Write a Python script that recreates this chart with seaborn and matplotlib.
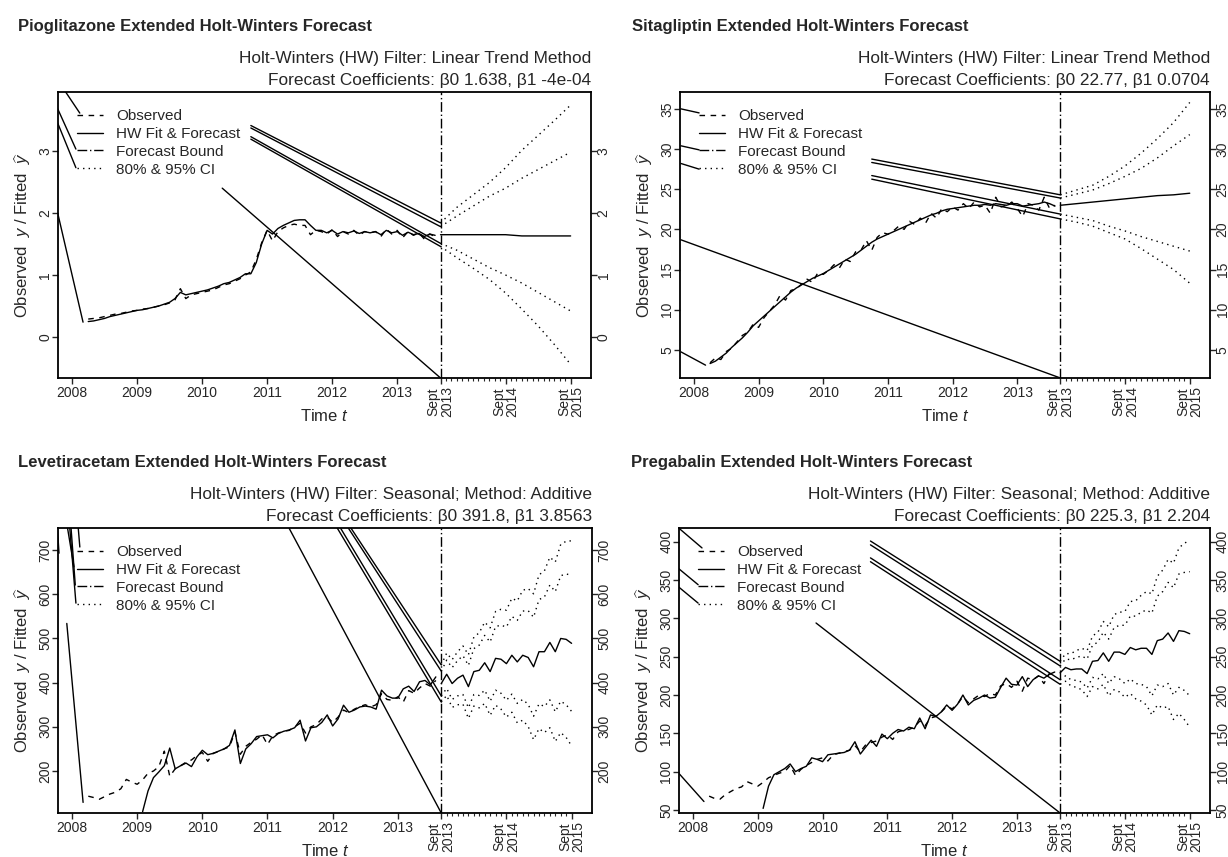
import numpy as np
import matplotlib
matplotlib.use("Agg")
import matplotlib.pyplot as plt
import seaborn as sns
from matplotlib.lines import Line2D

# ---------------------------------------------------------------- data
# monthly series: observed from Apr 2008, seasonal fits from Feb 2009,
# forecasts from Sept 2013 to Sept 2015
obs_start = 2008 + 3 / 12
seas_fit_start = 2009 + 1 / 12
fc_start = 2013 + 8 / 12

years = [2008, 2009, 2010, 2011, 2012, 2013]
sept_labels = ["Sept\n2013", "Sept\n2014", "Sept\n2015"]
legend_labels = ["Observed", "HW Fit & Forecast", "Forecast Bound", "80% & 95% CI"]

# Pioglitazone (linear trend, quarterly forecast points)
pio_obs = [0.29, 0.30, 0.31, 0.33, 0.35, 0.37, 0.38, 0.40, 0.42,
           0.43, 0.45, 0.46, 0.48, 0.50, 0.52, 0.55, 0.60, 0.78, 0.62, 0.68, 0.70,
           0.72, 0.74, 0.76, 0.80, 0.84, 0.86, 0.90, 0.94, 1.00, 1.05, 1.25, 1.52,
           1.72, 1.55, 1.70, 1.76, 1.80, 1.82, 1.80, 1.80, 1.65, 1.72, 1.70, 1.66,
           1.73, 1.62, 1.70, 1.66, 1.72, 1.64, 1.70, 1.68, 1.70, 1.62, 1.74, 1.66,
           1.72, 1.60, 1.70, 1.64, 1.68, 1.58, 1.66, 1.62]
pio_fit = [0.25, 0.26, 0.28, 0.30, 0.33, 0.35, 0.37, 0.39, 0.41,
           0.43, 0.44, 0.46, 0.48, 0.50, 0.53, 0.56, 0.62, 0.72, 0.68, 0.70, 0.72,
           0.74, 0.76, 0.79, 0.82, 0.86, 0.88, 0.92, 0.96, 1.02, 1.02, 1.20, 1.50,
           1.72, 1.66, 1.75, 1.80, 1.84, 1.88, 1.89, 1.89, 1.80, 1.72, 1.72, 1.68,
           1.72, 1.66, 1.70, 1.68, 1.71, 1.67, 1.70, 1.68, 1.70, 1.65, 1.72, 1.68,
           1.70, 1.64, 1.69, 1.65, 1.67, 1.62, 1.66, 1.64]
pio_fc = [1.65, 1.65, 1.65, 1.65, 1.65, 1.63, 1.63, 1.63, 1.63]
pio_up95 = [1.84, 2.09, 2.29, 2.49, 2.73, 3.01, 3.25, 3.49, 3.74]
pio_up80 = [1.78, 1.95, 2.11, 2.27, 2.40, 2.56, 2.70, 2.84, 2.98]
pio_lo80 = [1.51, 1.40, 1.26, 1.12, 1.00, 0.87, 0.72, 0.57, 0.42]
pio_lo95 = [1.46, 1.28, 1.11, 0.93, 0.71, 0.45, 0.18, -0.12, -0.44]
# stray connector segments in the original output (x0, y0, x1, y1)
pio_strays = [(2007.78, 2.00, 2008.17, 0.24), (2007.89, 3.97, 2008.12, 3.61),
              (2007.78, 3.68, 2008.06, 3.03), (2007.78, 3.45, 2008.06, 2.73),
              (2010.31, 2.40, fc_start, -0.66)]
pio_ci_stray_x = 2010.75
pio_ci_stray_y = [3.41, 3.37, 3.23, 3.19]

# Sitagliptin (linear trend)
sit_obs = [3.4, 4.0, 3.8, 4.8, 5.2, 6.0, 6.8, 7.2, 8.2,
           7.8, 9.0, 9.8, 10.6, 11.8, 11.2, 12.4, 12.6, 13.2, 13.8, 13.4, 14.6,
           14.4, 14.9, 15.6, 15.2, 16.3, 16.0, 17.2, 17.4, 18.6, 17.4, 19.0, 19.6,
           19.4, 19.8, 20.4, 20.0, 21.0, 20.6, 21.4, 20.8, 22.0, 21.4, 22.6, 22.2,
           22.8, 22.4, 23.2, 22.6, 23.4, 22.8, 23.0, 22.0, 24.0, 22.8, 23.0, 23.4,
           22.6, 21.6, 23.2, 23.0, 22.4, 24.0, 22.6, 23.0]
sit_fit = [3.3, 3.6, 4.1, 4.6, 5.3, 5.9, 6.5, 7.2, 8.0,
           8.6, 9.2, 9.8, 10.4, 11.0, 11.6, 12.2, 12.7, 13.1, 13.5, 13.9, 14.2,
           14.5, 14.9, 15.3, 15.7, 16.1, 16.5, 16.9, 17.4, 17.9, 18.4, 18.8, 19.1,
           19.4, 19.7, 20.0, 20.3, 20.6, 20.9, 21.2, 21.5, 21.8, 22.0, 22.3, 22.5,
           22.6, 22.7, 22.8, 22.9, 23.0, 23.0, 23.1, 23.0, 23.2, 23.1, 23.0, 23.2,
           23.2, 22.9, 23.0, 23.1, 23.2, 23.4, 23.2, 22.9]
sit_fc = [23.0, 23.2, 23.4, 23.6, 23.8, 24.0, 24.2, 24.3, 24.5]
sit_up95 = [24.3, 24.9, 25.5, 26.6, 27.9, 29.5, 31.3, 33.3, 35.8]
sit_up80 = [23.9, 24.4, 24.9, 25.7, 26.6, 27.6, 28.9, 30.4, 31.8]
sit_lo80 = [21.9, 21.5, 21.1, 20.4, 19.8, 19.1, 18.5, 17.9, 17.3]
sit_lo95 = [21.3, 20.9, 20.4, 19.6, 18.8, 17.6, 16.3, 15.0, 13.3]
sit_strays = [(2007.80, 4.75, 2008.18, 3.1), (2007.80, 35.0, 2008.08, 34.5),
              (2007.80, 30.4, 2008.08, 29.9), (2007.80, 28.2, 2008.08, 27.5),
              (2007.80, 18.7, fc_start, 1.5)]
sit_ci_stray_x = 2010.75
sit_ci_stray_y = [28.75, 28.33, 26.7, 26.25]

# Levetiracetam (seasonal additive, monthly forecast points)
lev_obs = [143, 140, 136, 142, 148, 152, 160, 181, 175,
           170, 180, 195, 200, 210, 245, 188, 205, 212, 220, 225, 235,
           242, 222, 240, 244, 250, 255, 288, 238, 256, 265, 272, 282,
           260, 280, 286, 290, 292, 300, 308, 286, 300, 305, 318, 322,
           310, 322, 338, 332, 340, 346, 350, 345, 350, 375, 362, 360,
           368, 356, 382, 376, 388, 398, 392, 405]
lev_fit = [108, 155, 185, 198, 212, 252, 205, 212, 218, 210, 232,
           247, 237, 240, 245, 250, 258, 293, 217, 250, 262, 278, 280,
           282, 275, 285, 290, 293, 298, 315, 268, 298, 300, 310, 327,
           302, 318, 349, 333, 338, 345, 347, 345, 340, 383, 370, 365,
           365, 386, 392, 380, 402, 405, 395, 413]
lev_fc = [398, 419, 398, 410, 417, 391, 425, 428, 445, 425, 455, 453, 443,
          462, 447, 462, 457, 436, 470, 470, 491, 470, 500, 498, 489]
lev_up95 = [440, 467, 452, 470, 483, 463, 503, 513, 537, 524, 561, 566, 564,
            591, 585, 609, 613, 601, 644, 653, 684, 673, 713, 720, 721]
lev_up80 = [426, 451, 434, 450, 461, 439, 477, 485, 507, 492, 527, 530, 526,
            550, 541, 562, 563, 548, 588, 594, 621, 606, 642, 646, 643]
lev_lo80 = [370, 387, 362, 370, 373, 343, 373, 371, 383, 358, 383, 376, 360,
            374, 353, 362, 351, 324, 352, 346, 361, 334, 358, 350, 335]
lev_lo95 = [356, 371, 344, 350, 351, 319, 347, 343, 353, 326, 349, 340, 322,
            333, 309, 315, 301, 271, 296, 287, 298, 267, 287, 276, 257]
lev_strays = [(2007.77, 765, 2007.80, 693), (2007.92, 760, 2008.03, 662),
              (2007.96, 760, 2008.06, 580), (2007.98, 760, 2008.05, 621),
              (2008.09, 760, 2008.12, 707), (2007.92, 534, 2008.17, 129),
              (2011.33, 750, fc_start, 105)]
lev_ci_stray_x = [2012.28, 2012.24, 2012.12, 2012.07]
lev_ci_stray_y = 750

# Pregabalin (seasonal additive)
pre_obs = [68, 65, 64, 70, 74, 78, 80, 87, 84,
           81, 86, 92, 95, 98, 100, 108, 95, 103, 108, 112, 116,
           118, 114, 122, 124, 126, 128, 134, 126, 135, 138, 140, 145,
           148, 142, 152, 154, 155, 158, 166, 160, 170, 172, 178, 185,
           182, 188, 198, 190, 195, 200, 198, 202, 200, 212, 215, 210,
           218, 205, 222, 220, 225, 215, 228, 226]
pre_fit = [52, 81, 96, 100, 104, 110, 100, 104, 107, 118, 116,
           113, 122, 123, 124, 125, 128, 139, 123, 132, 141, 133, 149,
           143, 150, 155, 153, 158, 156, 170, 156, 174, 172, 178, 187,
           180, 188, 200, 187, 193, 196, 200, 196, 197, 210, 222, 214,
           213, 224, 211, 220, 225, 222, 227, 230]
pre_fc = [229, 236, 233, 234, 234, 228, 244, 245, 255, 244, 256, 256, 253,
          262, 259, 261, 261, 253, 271, 273, 281, 270, 284, 283, 280]
pre_up95 = [244, 254, 254, 258, 261, 258, 277, 282, 296, 289, 305, 308, 309,
            322, 323, 330, 335, 332, 355, 363, 377, 372, 392, 398, 402]
pre_up80 = [238, 247, 246, 249, 251, 247, 265, 269, 282, 273, 288, 291, 291,
            303, 303, 308, 311, 307, 329, 335, 347, 340, 358, 360, 361]
pre_lo80 = [220, 225, 220, 219, 217, 209, 223, 221, 228, 215, 224, 221, 215,
            221, 215, 214, 211, 199, 213, 211, 215, 200, 210, 206, 199]
pre_lo95 = [214, 218, 212, 210, 207, 198, 211, 208, 214, 199, 207, 204, 197,
            202, 195, 192, 187, 174, 187, 183, 185, 168, 176, 168, 158]
pre_strays = [(2007.78, 418, 2008.14, 392), (2007.78, 365, 2008.08, 344),
              (2007.78, 341, 2008.08, 320), (2007.78, 98, 2008.17, 61),
              (2009.90, 294, fc_start, 46)]
pre_ci_stray_x = 2010.74
pre_ci_stray_y = [401, 396, 379, 374]

# ---------------------------------------------------------------- style
sns.set_style("ticks")
plt.rcParams["font.family"] = ["Liberation Sans", "DejaVu Sans"]
plt.rcParams["mathtext.fontset"] = "custom"
plt.rcParams["mathtext.rm"] = "Liberation Sans"
plt.rcParams["mathtext.it"] = "Liberation Sans:italic"

DASHED = (0, (4, 4))
DOTTED = (0, (1, 3))
DASHDOT = (0, (7, 2, 1, 2))

W, H = 1228, 857
fig = plt.figure(figsize=(W / 100, H / 100), dpi=100)


def rect(l, t, r, b):
    return [l / W, 1 - b / H, (r - l) / W, (b - t) / H]


def line(ax, x, y, ls="-"):
    sns.lineplot(x=x, y=y, ax=ax, color="black", linewidth=1.0, linestyle=ls,
                 sort=False, estimator=None, legend=False)


def panel(box, title, sub1, sub2, obs, fit, fit_start, fc, cis, strays,
          ci_sx, ci_sy, ylim, yticks):
    l, t, r, b = box
    ax = fig.add_axes(rect(l, t, r, b))
    t_obs = obs_start + np.arange(len(obs)) / 12
    t_fit = fit_start + np.arange(len(fit)) / 12
    step = 24 / (len(fc) - 1)
    t_fc = fc_start + np.arange(len(fc)) * step / 12

    for x0, y0, x1, y1 in strays:
        line(ax, [x0, x1], [y0, y1])
    for i, ci in enumerate(cis):
        sx = ci_sx[i] if isinstance(ci_sx, list) else ci_sx
        sy = ci_sy[i] if isinstance(ci_sy, list) else ci_sy
        line(ax, [sx, fc_start], [sy, ci[0]])

    line(ax, t_obs, obs, DASHED)
    line(ax, t_fit, fit)
    line(ax, t_fc, fc)
    for ci in cis:
        line(ax, t_fc, ci, DOTTED)
    ax.axvline(fc_start, color="black", linewidth=1.0, linestyle=DASHDOT)

    ax.set_xlim(2007.785, 2015.98)
    ax.set_ylim(*ylim)
    ax.set_xticks(years + [fc_start, fc_start + 1, fc_start + 2])
    ax.set_xticklabels([str(y) for y in years] + sept_labels, fontsize=10)
    for lab in ax.get_xticklabels()[len(years):]:
        lab.set_rotation(90)
        lab.set_ha("center")
        lab.set_va("top")
        lab.set_linespacing(0.95)
    minor = [fc_start + m / 12 for m in range(1, 24) if m != 12]
    ax.set_xticks(minor, minor=True)
    ax.set_yticks(yticks)
    ax.set_yticklabels([str(v) for v in yticks], fontsize=10, va="center")
    ax.tick_params(axis="y", left=True, right=True, labelleft=True,
                   labelright=True, labelrotation=90, length=4, width=1.0, pad=0)
    ax.tick_params(axis="x", which="major", length=4.5, width=1.0, pad=1.5)
    ax.tick_params(axis="x", which="minor", length=2.5, width=0.8)
    for s in ax.spines.values():
        s.set_linewidth(1.3)
        s.set_color("black")

    ax.set_xlabel(r"Time $t$", fontsize=12, va="center")
    ax.xaxis.set_label_coords(0.5, -0.133)
    ax.set_ylabel(r"Observed  $y$ / Fitted  $\widehat{y}$", fontsize=12, va="center")
    ax.yaxis.set_label_coords(-0.066, 0.5)

    handles = [Line2D([], [], color="black", lw=1.0, ls=DASHED),
               Line2D([], [], color="black", lw=1.0, ls="-"),
               Line2D([], [], color="black", lw=1.0, ls=DASHDOT),
               Line2D([], [], color="black", lw=1.0, ls=DOTTED)]
    ax.legend(handles, legend_labels, loc="upper left", bbox_to_anchor=(0.035, 0.94),
              frameon=False, fontsize=11, handlelength=1.75, handletextpad=0.85,
              labelspacing=0.25, borderpad=0, borderaxespad=0)

    fig.text(l / W - (40 if l < 100 else 48) / W, 1 - (t - 65) / H, title,
             fontsize=12, fontweight="bold", ha="left", va="center")
    fig.text(r / W, 1 - (t - 34) / H, sub1, fontsize=12.4, ha="right", va="center")
    fig.text(r / W, 1 - (t - 12) / H, sub2, fontsize=12.4, ha="right", va="center")
    return ax


panel((58, 92, 591, 378), "Pioglitazone Extended Holt-Winters Forecast",
      "Holt-Winters (HW) Filter: Linear Trend Method",
      "Forecast Coefficients: \u03b20 1.638, \u03b21 -4e-04",
      pio_obs, pio_fit, obs_start, pio_fc,
      [pio_up95, pio_up80, pio_lo80, pio_lo95], pio_strays,
      pio_ci_stray_x, pio_ci_stray_y, (-0.66, 3.95), [0, 1, 2, 3])

panel((680, 92, 1210, 378), "Sitagliptin Extended Holt-Winters Forecast",
      "Holt-Winters (HW) Filter: Linear Trend Method",
      "Forecast Coefficients: \u03b20 22.77, \u03b21 0.0704",
      sit_obs, sit_fit, obs_start, sit_fc,
      [sit_up95, sit_up80, sit_lo80, sit_lo95], sit_strays,
      sit_ci_stray_x, sit_ci_stray_y, (1.5, 37.1), [5, 10, 15, 20, 25, 30, 35])

panel((58, 528, 592, 813), "Levetiracetam Extended Holt-Winters Forecast",
      "Holt-Winters (HW) Filter: Seasonal; Method: Additive",
      "Forecast Coefficients: \u03b20 391.8, \u03b21 3.8563",
      lev_obs, lev_fit, seas_fit_start, lev_fc,
      [lev_up95, lev_up80, lev_lo80, lev_lo95], lev_strays,
      lev_ci_stray_x, lev_ci_stray_y, (105, 750), [200, 300, 400, 500, 600, 700])

panel((679, 528, 1210, 813), "Pregabalin Extended Holt-Winters Forecast",
      "Holt-Winters (HW) Filter: Seasonal; Method: Additive",
      "Forecast Coefficients: \u03b20 225.3, \u03b21 2.204",
      pre_obs, pre_fit, seas_fit_start, pre_fc,
      [pre_up95, pre_up80, pre_lo80, pre_lo95], pre_strays,
      pre_ci_stray_x, pre_ci_stray_y, (46, 418),
      [50, 100, 150, 200, 250, 300, 350, 400])

fig.savefig("out.png", dpi=100)
